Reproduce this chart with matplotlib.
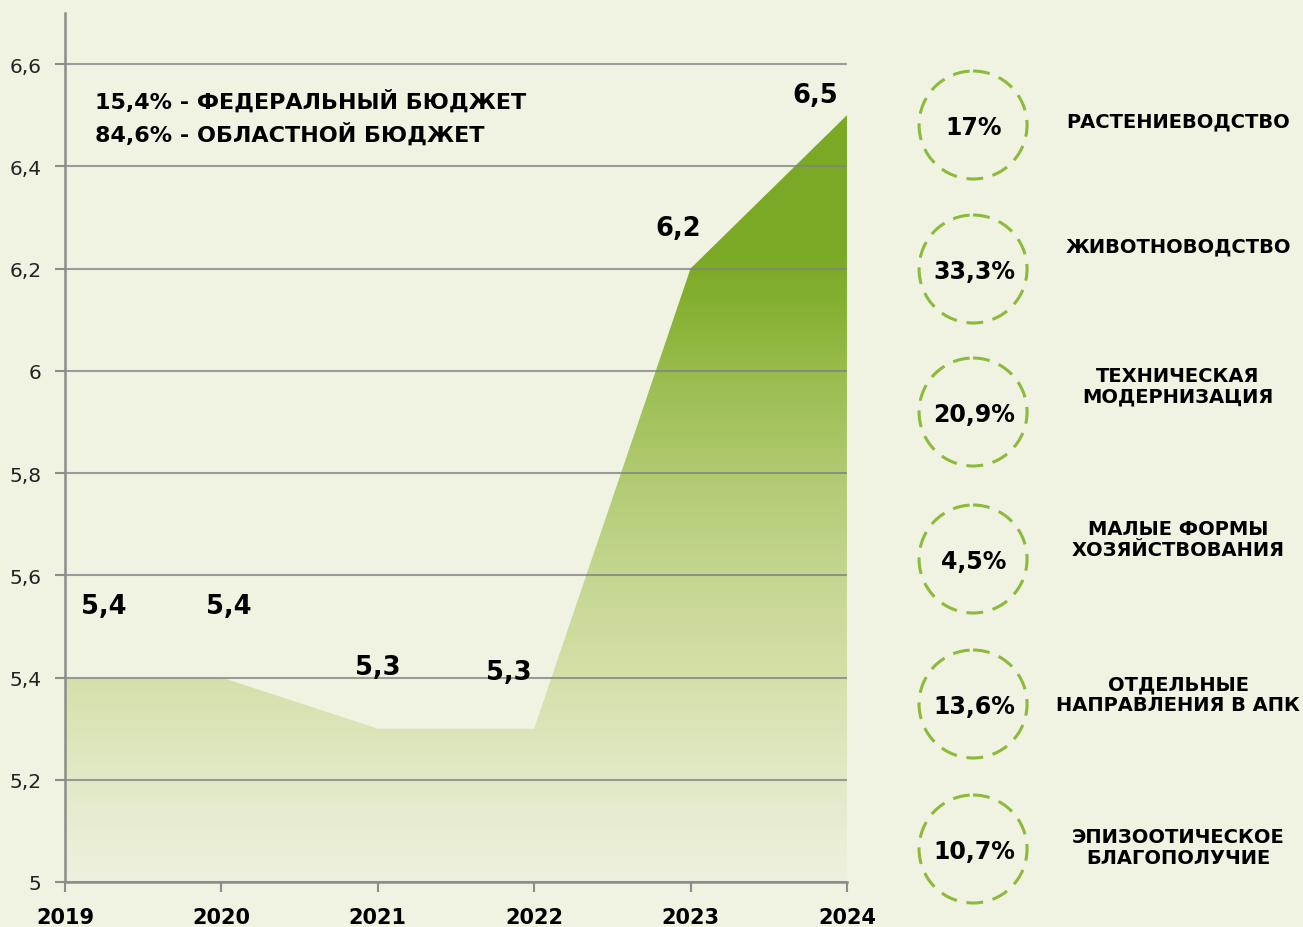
import matplotlib.pyplot as plt
import numpy as np
from matplotlib.colors import LinearSegmentedColormap
from matplotlib.patches import Circle

plt.rcParams['font.family'] = ['DejaVu Sans']

years = ['2019', '2020', '2021', '2022', '2023', '2024']
values = [5.4, 5.4, 5.3, 5.3, 6.2, 6.5]
value_labels = ['5,4', '5,4', '5,3', '5,3', '6,2', '6,5']
yticks = [5, 5.2, 5.4, 5.6, 5.8, 6, 6.2, 6.4, 6.6]
ytick_labels = ['5', '5,2', '5,4', '5,6', '5,8', '6', '6,2', '6,4', '6,6']

budget_lines = ['15,4% - ФЕДЕРАЛЬНЫЙ БЮДЖЕТ', '84,6% - ОБЛАСТНОЙ БЮДЖЕТ']
shares = ['17%', '33,3%', '20,9%', '4,5%', '13,6%', '10,7%']
share_names = ['РАСТЕНИЕВОДСТВО', 'ЖИВОТНОВОДСТВО', 'ТЕХНИЧЕСКАЯ\nМОДЕРНИЗАЦИЯ',
               'МАЛЫЕ ФОРМЫ\nХОЗЯЙСТВОВАНИЯ', 'ОТДЕЛЬНЫЕ\nНАПРАВЛЕНИЯ В АПК',
               'ЭПИЗООТИЧЕСКОЕ\nБЛАГОПОЛУЧИЕ']

bg = '#F0F2E2'
fig = plt.figure(figsize=(13.03, 9.28), dpi=100, facecolor=bg)
ax = fig.add_axes([0.0499, 0.0485, 0.6001, 0.9365])
ax.set_facecolor(bg)

x = np.arange(len(years))
ax.set_xlim(0, len(years) - 1)
ax.set_ylim(5, 6.7)

# vertical gradient clipped by the area polygon
stops = [(0.0, '#EEF1DE'), (0.2 / 1.7, '#E2E9C6'), (0.4 / 1.7, '#D4E0A8'),
         (0.6 / 1.7, '#C4D690'), (0.8 / 1.7, '#B0CA70'), (1.0 / 1.7, '#99BC4D'),
         (1.12 / 1.7, '#86B132'), (1.22 / 1.7, '#7BAA26'), (1.0, '#7AAA25')]
cmap = LinearSegmentedColormap.from_list('grn', stops)
grad = np.linspace(0, 1, 256).reshape(-1, 1)
poly = ax.fill_between(x, 5, values, color='none', lw=0)
im = ax.imshow(grad, cmap=cmap, origin='lower', aspect='auto',
               extent=[0, len(years) - 1, 5, 6.7], zorder=1)
im.set_clip_path(poly.get_paths()[0], transform=ax.transData)

ax.set_yticks(yticks)
ax.set_yticklabels(ytick_labels, fontsize=14.5, color='#222222')
ax.set_xticks(x)
ax.set_xticklabels(years, fontsize=15, fontweight='bold', color='black')
ax.grid(axis='y', color='#7F7F7F', lw=1.5, alpha=0.75, zorder=2)
ax.set_axisbelow(False)
for s in ['top', 'right']:
    ax.spines[s].set_visible(False)
for s in ['left', 'bottom']:
    ax.spines[s].set_color('#8C8C8C')
    ax.spines[s].set_linewidth(1.8)
    ax.spines[s].set_zorder(3)
ax.tick_params(axis='both', colors='#8C8C8C', width=1.5, length=7)
ax.tick_params(axis='y', labelcolor='#222222', pad=10)
ax.tick_params(axis='x', labelcolor='black', pad=11)

offsets = [(0.25, 0.14), (0.05, 0.14), (0.0, 0.12), (-0.16, 0.11), (-0.08, 0.08), (-0.2, 0.04)]
for i, (v, lab) in enumerate(zip(values, value_labels)):
    ax.text(x[i] + offsets[i][0], v + offsets[i][1], lab, fontsize=18.5,
            fontweight='bold', ha='center', va='center', zorder=4)

ax.text(0.19, 6.53, budget_lines[0], fontsize=16, fontweight='bold', va='center')
ax.text(0.19, 6.465, budget_lines[1], fontsize=16, fontweight='bold', va='center')

# right panel in pixel coordinates
rp = fig.add_axes([0.69, 0.0, 0.31, 1.0])
rp.set_xlim(899, 1303)
rp.set_ylim(928, 0)
rp.axis('off')
cy = [126, 270, 413, 560, 705, 850]
ty = [122, 247, 387, 540, 695, 848]
for c, t, s, n in zip(cy, ty, shares, share_names):
    rp.add_patch(Circle((973, c), 54, fill=False, ec='#8DBA3A', lw=2.2,
                        ls=(0, (5.5, 3.2))))
    rp.text(974, c + 2, s, fontsize=17, fontweight='bold', ha='center', va='center')
    rp.text(1178, t, n, fontsize=14, fontweight='bold', ha='center', va='center',
            linespacing=1.1)

fig.savefig('out.png', dpi=100, facecolor=bg)
